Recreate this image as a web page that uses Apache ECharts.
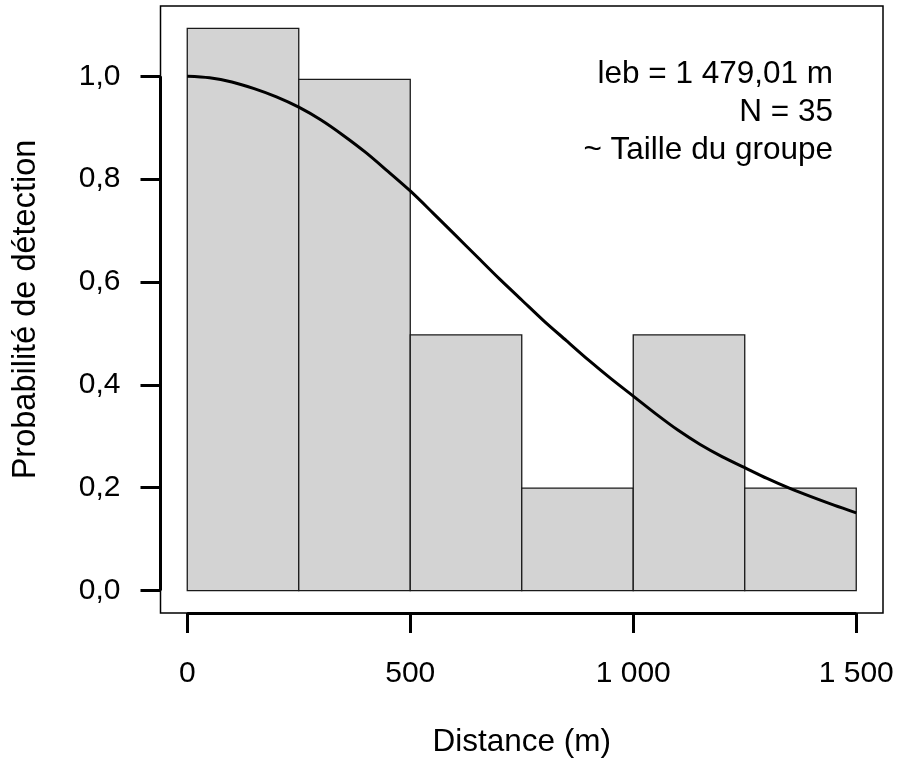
<!DOCTYPE html>
<html>
<head>
<meta charset="utf-8">
<script src="https://cdn.jsdelivr.net/npm/echarts@6/dist/echarts.min.js"></script>
<style>
  html, body { margin: 0; padding: 0; background: #fff; }
  #chart { width: 898px; height: 769px; }
</style>
</head>
<body>
<div id="chart"></div>
<script>
// histogram bins (distance, m) and scaled heights
var binStart = [0, 250, 500, 750, 1000, 1250];
var binEnd = [250, 500, 750, 1000, 1250, 1500];
var binHeight = [1.093, 0.994, 0.497, 0.199, 0.497, 0.199];

// fitted detection curve
var curveX = [0, 50, 100, 150, 200, 250, 300, 350, 400, 450, 500, 550, 600, 650, 700, 750,
              800, 850, 900, 950, 1000, 1050, 1100, 1150, 1200, 1250, 1300, 1350, 1400, 1450, 1500];
var curveY = [1.0, 0.997, 0.989, 0.976, 0.96, 0.94, 0.915, 0.885, 0.852, 0.815, 0.777, 0.735,
              0.692, 0.649, 0.606, 0.565, 0.524, 0.486, 0.448, 0.412, 0.378, 0.344, 0.312,
              0.284, 0.26, 0.239, 0.218, 0.199, 0.182, 0.166, 0.151];

var xTicks = [0, 500, 1000, 1500];
var yTicks = [0, 0.2, 0.4, 0.6, 0.8, 1.0];

var X_MIN = -60, X_MAX = 1560;
var Y_MIN = -0.0437, Y_MAX = 1.1367;

var FONT = '"Liberation Sans", Arial, Helvetica, sans-serif';
var FS = 30;

function fmtX(v) {
    return v >= 1000 ? Math.floor(v / 1000) + ' ' + String(v % 1000).padStart(3, '0') : String(v);
}
function fmtY(v) {
    return v.toFixed(1).replace('.', ',');
}

var bars = binStart.map(function (s, i) { return [s, binEnd[i], binHeight[i]]; });
var curve = curveX.map(function (x, i) { return [x, curveY[i]]; });

var myChart = echarts.init(document.getElementById('chart'));

var option = {
    animation: false,
    grid: {
        left: 160.5, right: 15, top: 6, bottom: 156,
        show: true, borderColor: '#000', borderWidth: 1.5,
        containLabel: false, outerBoundsMode: 'none'
    },
    xAxis: {
        type: 'value', min: X_MIN, max: X_MAX,
        name: 'Distance (m)', nameLocation: 'middle', nameGap: 113,
        nameTextStyle: { fontFamily: FONT, fontSize: 31.5, color: '#000' },
        axisLine: { show: false, onZero: false },
        splitLine: { show: false },
        axisTick: { show: true, length: 20, customValues: xTicks, lineStyle: { color: '#000', width: 3 } },
        axisLabel: { customValues: xTicks, margin: 46, formatter: fmtX,
                     fontFamily: FONT, fontSize: FS, color: '#000' }
    },
    yAxis: {
        type: 'value', min: Y_MIN, max: Y_MAX,
        name: 'Probabilité de détection', nameLocation: 'middle', nameGap: 118,
        nameTextStyle: { fontFamily: FONT, fontSize: 32.5, color: '#000' },
        axisLine: { show: false, onZero: false },
        splitLine: { show: false },
        axisTick: { show: true, length: 20, customValues: yTicks, lineStyle: { color: '#000', width: 3 } },
        axisLabel: { customValues: yTicks, margin: 40, formatter: fmtY,
                     fontFamily: FONT, fontSize: FS, color: '#000' }
    },
    graphic: [{
        type: 'text', right: 65, top: 55,
        style: {
            text: 'leb = 1 479,01 m\nN = 35\n~ Taille du groupe',
            font: '31.5px ' + FONT, fill: '#000', textAlign: 'right', lineHeight: 38
        }
    }],
    series: [
        {
            type: 'custom',
            data: bars,
            clip: false,
            renderItem: function (params, api) {
                var p0 = api.coord([api.value(0), api.value(2)]);
                var p1 = api.coord([api.value(1), 0]);
                return {
                    type: 'rect',
                    shape: { x: p0[0], y: p0[1], width: p1[0] - p0[0], height: p1[1] - p0[1] },
                    style: { fill: '#d3d3d3', stroke: '#1a1a1a', lineWidth: 1.3 }
                };
            }
        },
        {
            type: 'line',
            data: curve,
            showSymbol: false,
            symbol: 'none',
            smooth: 0.3,
            clip: false,
            lineStyle: { color: '#000', width: 3 },
            markLine: {
                silent: true,
                symbol: 'none',
                label: { show: false },
                lineStyle: { color: '#000', width: 3, type: 'solid' },
                data: [
                    [{ coord: [xTicks[0], Y_MIN] }, { coord: [xTicks[xTicks.length - 1], Y_MIN] }],
                    [{ coord: [X_MIN, yTicks[0]] }, { coord: [X_MIN, yTicks[yTicks.length - 1]] }]
                ]
            }
        }
    ]
};

myChart.setOption(option);
</script>
</body>
</html>
